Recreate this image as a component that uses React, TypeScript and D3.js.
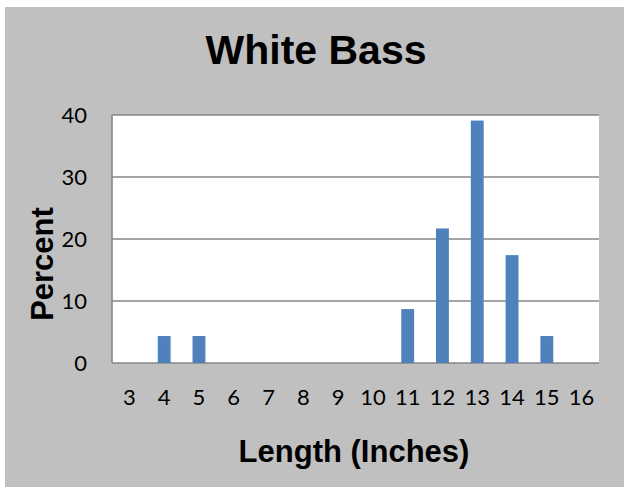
import * as d3 from 'd3';

const lengths = ['3', '4', '5', '6', '7', '8', '9', '10', '11', '12', '13', '14', '15', '16'];
const percents = [0, 4.35, 4.35, 0, 0, 0, 0, 0, 8.7, 21.7, 39.1, 17.4, 4.35, 0];
const yTicks = [0, 10, 20, 30, 40];

const W = 627;
const H = 491;
const plot = { left: 112, right: 599, top: 115, bottom: 363 };

export default function App() {
  const x = d3
    .scaleBand<string>()
    .domain(lengths)
    .range([plot.left, plot.right])
    .paddingInner(0.63)
    .paddingOuter(0.315);

  const y = d3.scaleLinear().domain([0, 40]).range([plot.bottom, plot.top]);

  const tickFont = 'Lato, "Open Sans", sans-serif';
  const boldFont = '"Liberation Sans", Arial, sans-serif';

  return (
    <svg
      width={W}
      height={H}
      style={{ position: 'absolute', left: 0, top: 0, display: 'block' }}
    >
      <rect x={0} y={0} width={W} height={H} fill="#ffffff" />
      <rect x={5} y={7} width={619} height={480} fill="#c0c0c0" />

      {/* plot area */}
      <rect
        x={plot.left}
        y={plot.top}
        width={plot.right - plot.left}
        height={plot.bottom - plot.top}
        fill="#ffffff"
      />

      {/* gridlines */}
      {yTicks.map((t) => (
        <line
          key={'g' + t}
          x1={plot.left}
          x2={plot.right}
          y1={y(t)}
          y2={y(t)}
          stroke="#878787"
          strokeWidth={1.6}
        />
      ))}
      <line
        x1={plot.left}
        x2={plot.left}
        y1={plot.top}
        y2={plot.bottom}
        stroke="#878787"
        strokeWidth={1.6}
      />

      {/* bars */}
      {lengths.map((l, i) =>
        percents[i] > 0 ? (
          <rect
            key={'b' + l}
            x={x(l)}
            y={y(percents[i])}
            width={x.bandwidth()}
            height={y(0) - y(percents[i])}
            fill="#4f81bd"
          />
        ) : null
      )}

      {/* y tick labels */}
      {yTicks.map((t) => (
        <text
          key={'yt' + t}
          x={87}
          y={y(t)}
          dy="0.36em"
          textAnchor="end"
          fontFamily={tickFont}
          fontSize={22}
          fill="#000"
        >
          {t}
        </text>
      ))}

      {/* x tick labels */}
      {lengths.map((l) => (
        <text
          key={'xt' + l}
          x={(x(l) ?? 0) + x.bandwidth() / 2}
          y={405}
          textAnchor="middle"
          fontFamily={tickFont}
          fontSize={22}
          fill="#000"
        >
          {l}
        </text>
      ))}

      {/* titles */}
      <text
        x={316}
        y={64}
        textAnchor="middle"
        fontFamily={boldFont}
        fontWeight="bold"
        fontSize={41}
        fill="#000"
      >
        White Bass
      </text>
      <text
        x={354}
        y={462}
        textAnchor="middle"
        fontFamily={boldFont}
        fontWeight="bold"
        fontSize={31}
        fill="#000"
      >
        Length (Inches)
      </text>
      <text
        transform={`translate(53,264) rotate(-90)`}
        textAnchor="middle"
        fontFamily={boldFont}
        fontWeight="bold"
        fontSize={31}
        fill="#000"
      >
        Percent
      </text>
    </svg>
  );
}
